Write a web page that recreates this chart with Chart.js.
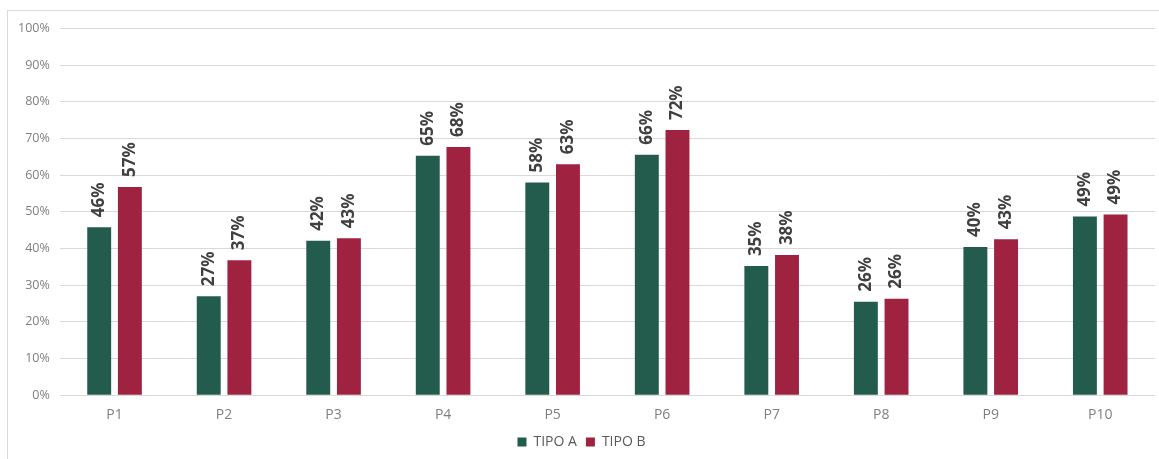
<!DOCTYPE html>
<html>
<head>
<meta charset="utf-8">
<script src="https://cdn.jsdelivr.net/npm/chart.js@4"></script>
<style>
    html, body { margin: 0; padding: 0; background: #fff; }
    #frame {
        position: absolute;
        left: 7px;
        top: 10px;
        width: 1160px;
        height: 460px;
        border-left: 1px solid #d9d9d9;
        border-top: 1px solid #d9d9d9;
        box-sizing: border-box;
    }
    #wrap {
        position: absolute;
        left: 8px;
        top: 11px;
        width: 1151px;
        height: 448px;
    }
</style>
</head>
<body>
<div id="frame"></div>
<div id="wrap"><canvas id="tiposChart"></canvas></div>
<script>
// valores
const categorias = ['P1', 'P2', 'P3', 'P4', 'P5', 'P6', 'P7', 'P8', 'P9', 'P10'];
const tipoA = [45.8, 27.0, 42.1, 65.3, 58.0, 65.6, 35.2, 25.5, 40.4, 48.7];
const tipoB = [56.8, 36.8, 42.8, 67.7, 63.0, 72.3, 38.2, 26.3, 42.5, 49.3];
const ticksY = [0, 10, 20, 30, 40, 50, 60, 70, 80, 90, 100];

const fuente = "'Open Sans', 'Noto Sans', sans-serif";

// Etiquetas verticales encima de cada barra
const etiquetasPlugin = {
    id: 'etiquetasBarras',
    afterDatasetsDraw(chart) {
        const ctx = chart.ctx;
        ctx.save();
        ctx.fillStyle = '#404040';
        ctx.font = 'bold 17px ' + fuente;
        ctx.textAlign = 'left';
        ctx.textBaseline = 'middle';
        chart.data.datasets.forEach((ds, i) => {
            const meta = chart.getDatasetMeta(i);
            meta.data.forEach((bar, j) => {
                const txt = Math.round(ds.data[j]) + '%';
                ctx.save();
                ctx.translate(bar.x, bar.y - 10);
                ctx.rotate(-Math.PI / 2);
                ctx.fillText(txt, 0, 0);
                ctx.restore();
            });
        });
        ctx.restore();
    }
};

new Chart(document.getElementById('tiposChart'), {
    type: 'bar',
    data: {
        labels: categorias,
        datasets: [
            {
                label: 'TIPO A',
                data: tipoA,
                backgroundColor: '#235c4d',
                barPercentage: 0.78,
                categoryPercentage: 0.56
            },
            {
                label: 'TIPO B',
                data: tipoB,
                backgroundColor: '#9f2241',
                barPercentage: 0.78,
                categoryPercentage: 0.56
            }
        ]
    },
    options: {
        responsive: true,
        maintainAspectRatio: false,
        animation: false,
        layout: {
            padding: { left: 0, right: 4, top: 4, bottom: 0 }
        },
        plugins: {
            legend: {
                position: 'bottom',
                labels: {
                    boxWidth: 9,
                    boxHeight: 9,
                    padding: 9,
                    color: '#595959',
                    font: { family: fuente, size: 14 }
                }
            },
            tooltip: { enabled: false }
        },
        scales: {
            y: {
                min: 0,
                max: 100,
                afterBuildTicks: (axis) => {
                    axis.ticks = ticksY.map(v => ({ value: v }));
                },
                ticks: {
                    color: '#7f7f7f',
                    padding: 10,
                    font: { family: fuente, size: 12.5 },
                    callback: (v) => v + '%'
                },
                grid: {
                    color: '#d9d9d9',
                    drawTicks: false
                },
                border: { display: false }
            },
            x: {
                ticks: {
                    color: '#7f7f7f',
                    padding: 3,
                    font: { family: fuente, size: 14 }
                },
                grid: { display: false },
                border: { display: false }
            }
        }
    },
    plugins: [etiquetasPlugin]
});
</script>
</body>
</html>
